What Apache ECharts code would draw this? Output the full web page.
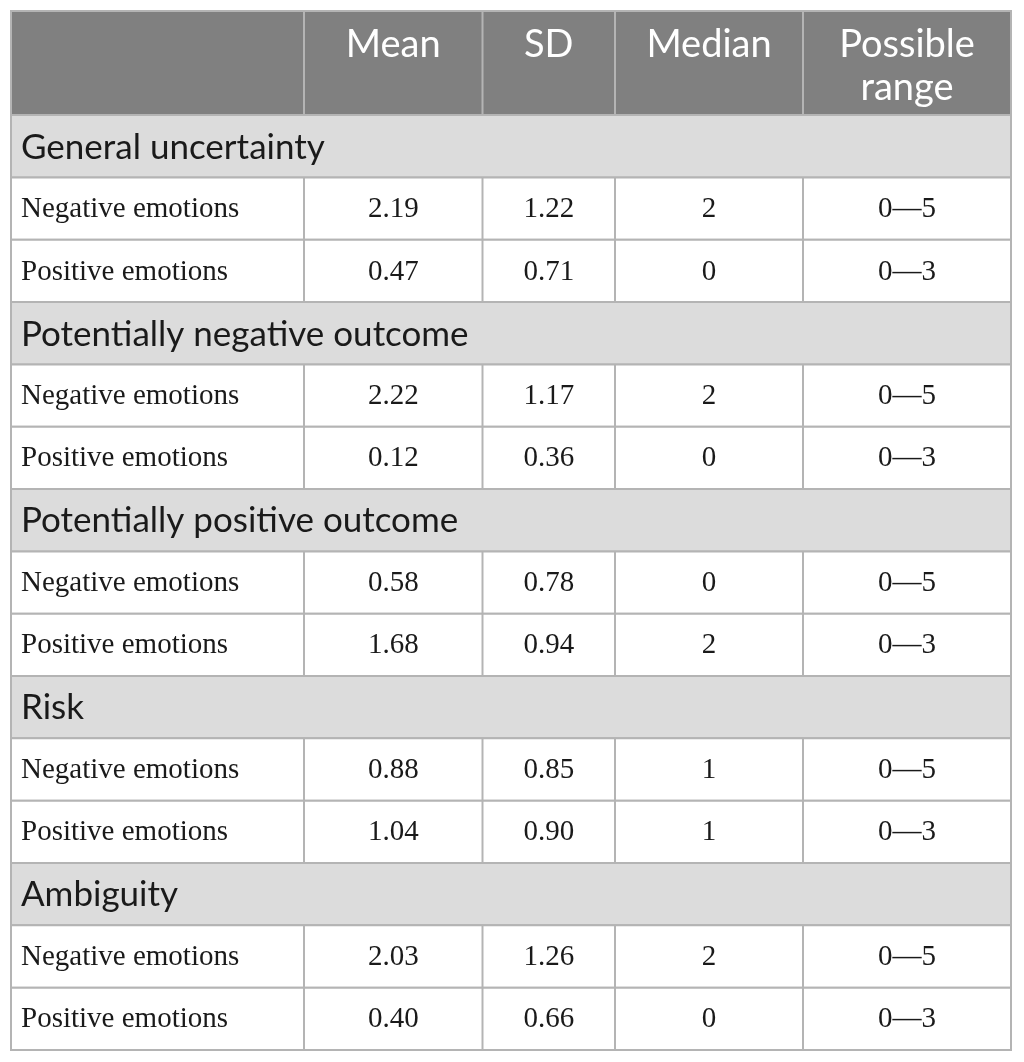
<!DOCTYPE html>
<html>
<head>
<meta charset="utf-8">
<script src="https://cdn.jsdelivr.net/npm/echarts@6/dist/echarts.min.js"></script>
<style>
  html, body { margin: 0; padding: 0; background: #fff; }
  #main { width: 1024px; height: 1062px; }
</style>
</head>
<body>
<div id="main"></div>
<script>
// 表头
const headers = ['', 'Mean', 'SD', 'Median', 'Possible\nrange'];
// 分组
const groups = ['General uncertainty', 'Potentially negative outcome', 'Potentially positive outcome', 'Risk', 'Ambiguity'];
const rowLabels = ['Negative emotions', 'Positive emotions'];
// 每组两行: [mean, sd, median, range]
const means = [['2.19', '0.47'], ['2.22', '0.12'], ['0.58', '1.68'], ['0.88', '1.04'], ['2.03', '0.40']];
const sds = [['1.22', '0.71'], ['1.17', '0.36'], ['0.78', '0.94'], ['0.85', '0.90'], ['1.26', '0.66']];
const medians = [['2', '0'], ['2', '0'], ['0', '2'], ['1', '1'], ['2', '0']];
const ranges = ['0\u20145', '0\u20143'];

// layout (x in table units, 0..1000; y in row units)
const colEdges = [0, 293, 471.5, 604, 792, 1000];
const headerUnits = 1.67;
const totalUnits = headerUnits + groups.length * 3;

const sansFont = 'Lato, "Open Sans", sans-serif';
const serifFont = '"Liberation Serif", "DejaVu Serif", serif';
const lineColor = '#b4b4b4';

// rows: {kind, y0, y1, cells}
const rows = [];
rows.push({ kind: 'header', y0: 0, y1: headerUnits, cells: headers });
groups.forEach(function (g, gi) {
    const base = headerUnits + gi * 3;
    rows.push({ kind: 'group', y0: base, y1: base + 1, cells: [g] });
    for (let r = 0; r < 2; r++) {
        rows.push({
            kind: 'data', y0: base + 1 + r, y1: base + 2 + r,
            cells: [rowLabels[r], means[gi][r], sds[gi][r], medians[gi][r], ranges[r]]
        });
    }
});

function renderRow(params, api) {
    const row = rows[params.dataIndex];
    const children = [];
    const top = api.coord([0, row.y0])[1];
    const bottom = api.coord([0, row.y1])[1];
    const xs = colEdges.map(function (e) { return api.coord([e, 0])[0]; });
    const left = xs[0], right = xs[xs.length - 1];
    const fill = row.kind === 'header' ? '#808080' : (row.kind === 'group' ? '#dcdcdc' : '#ffffff');
    children.push({
        type: 'rect',
        shape: { x: left, y: top, width: right - left, height: bottom - top },
        style: { fill: fill, stroke: lineColor, lineWidth: 2 }
    });
    const midY = (top + bottom) / 2;
    if (row.kind === 'group') {
        children.push({
            type: 'text',
            style: {
                text: row.cells[0], x: left + 10, y: midY + 1,
                fill: '#1a1a1a', font: '35px ' + sansFont,
                verticalAlign: 'middle', align: 'left'
            }
        });
    } else {
        for (let c = 1; c < xs.length - 1; c++) {
            children.push({
                type: 'line',
                shape: { x1: xs[c], y1: top, x2: xs[c], y2: bottom },
                style: { stroke: lineColor, lineWidth: 2 }
            });
        }
        row.cells.forEach(function (t, c) {
            if (!t) return;
            const isHeader = row.kind === 'header';
            const isLabel = c === 0;
            children.push({
                type: 'text',
                style: {
                    text: t,
                    x: isLabel ? xs[0] + 10 : (xs[c] + xs[c + 1]) / 2,
                    y: isHeader ? top + 12 : midY + 1,
                    align: isLabel ? 'left' : 'center',
                    verticalAlign: isHeader ? 'top' : 'middle',
                    fill: isHeader ? '#ffffff' : '#1a1a1a',
                    font: isHeader ? '38px ' + sansFont : '29px ' + serifFont,
                    lineHeight: isHeader ? 43 : 30
                }
            });
        });
    }
    return { type: 'group', children: children };
}

const chart = echarts.init(document.getElementById('main'), null, { renderer: 'canvas' });
const option = {
    animation: false,
    grid: { left: 11, right: 13, top: 11, bottom: 12 },
    xAxis: { type: 'value', min: 0, max: 1000, show: false },
    yAxis: { type: 'value', min: 0, max: totalUnits, inverse: true, show: false },
    series: [{
        type: 'custom',
        renderItem: renderRow,
        data: rows.map(function (r, i) { return [i]; }),
        silent: true
    }]
};
chart.setOption(option);
window.addEventListener('resize', function () { chart.resize(); });
</script>
</body>
</html>
